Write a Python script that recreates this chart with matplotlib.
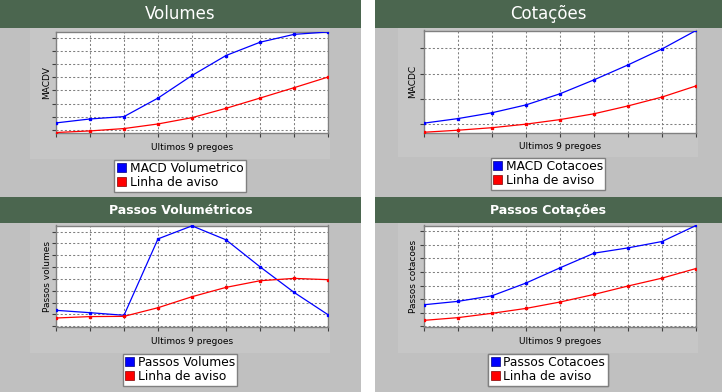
import matplotlib
matplotlib.use("Agg")
import matplotlib.pyplot as plt
from matplotlib.patches import Rectangle, Patch

W, H = 722, 392

# data (arbitrary units)
pregoes = list(range(9))

macd_vol = [0.53, 0.83, 1.01, 2.42, 4.14, 5.66, 6.67, 7.27, 7.45]
aviso_vol = [-0.2, -0.08, 0.1, 0.45, 0.93, 1.64, 2.42, 3.21, 4.02]

macd_cot = [0.04, 0.22, 0.45, 0.76, 1.20, 1.75, 2.34, 2.97, 3.70]
aviso_cot = [-0.32, -0.24, -0.14, 0.0, 0.18, 0.41, 0.72, 1.07, 1.51]

passos_vol = [1.35, 1.15, 0.93, 7.39, 8.49, 7.31, 5.03, 2.87, 0.98]
aviso_pvol = [0.70, 0.82, 0.84, 1.57, 2.50, 3.29, 3.85, 4.05, 3.94]

passos_cot = [1.59, 1.84, 2.25, 3.19, 4.31, 5.39, 5.78, 6.25, 7.43]
aviso_pcot = [0.44, 0.64, 0.96, 1.32, 1.79, 2.35, 2.97, 3.55, 4.26]

GRAY = "#c0c0c0"
BOX = "#c6c6c6"
GREEN = "#4b664f"

fig = plt.figure(figsize=(W / 100, H / 100), dpi=100)
fig.patch.set_facecolor("white")

bg = fig.add_axes([0, 0, 1, 1], zorder=-1)
bg.set_xlim(0, W)
bg.set_ylim(H, 0)
bg.axis("off")


def px_axes(x0, y0, x1, y1):
    return fig.add_axes([x0 / W, 1 - y1 / H, (x1 - x0) / W, (y1 - y0) / H])


# panel backgrounds and title bars
for x0, x1 in [(0, 361), (375, 722)]:
    bg.add_patch(Rectangle((x0, 0), x1 - x0, H, color=GRAY, lw=0))
    bg.add_patch(Rectangle((x0, 0), x1 - x0, 28, color=GREEN, lw=0))
    bg.add_patch(Rectangle((x0, 197), x1 - x0, 26, color=GREEN, lw=0))

bg.text(180.5, 14, "Volumes", color="white", fontsize=12, ha="center", va="center")
bg.text(548.5, 14, "Cotações", color="white", fontsize=12, ha="center", va="center")
bg.text(180.5, 210, "Passos Volumétricos", color="white", fontsize=9, fontweight="bold",
        ha="center", va="center")
bg.text(548.5, 210, "Passos Cotações", color="white", fontsize=9, fontweight="bold",
        ha="center", va="center")

charts = [
    # inner box, plot rect, ylabel, label x, series, names, ylim, xlabel y
    ((30, 28, 330, 159), (56, 32, 328, 132.5), "MACDV", 47,
     macd_vol, aviso_vol, "MACD Volumetrico", (-0.2, 7.45), 147),
    ((398, 28, 698, 157), (424, 30.5, 696, 132.5), "MACDC", 413,
     macd_cot, aviso_cot, "MACD Cotacoes", (-0.33, 3.70), 146),
    ((30, 223, 330, 353), (56, 225.5, 328, 327), "Passos volumes", 47,
     passos_vol, aviso_pvol, "Passos Volumes", (-0.06, 8.52), 341),
    ((398, 223, 698, 353), (424, 225.5, 696, 327), "Passos cotacoes", 413,
     passos_cot, aviso_pcot, "Passos Cotacoes", (-0.05, 7.43), 341),
]

for box, rect, ylab, ylab_x, blue, red, name, ylim, xlab_y in charts:
    bx0, by0, bx1, by1 = box
    bg.add_patch(Rectangle((bx0, by0), bx1 - bx0, by1 - by0, color=BOX, lw=0))

    ax = px_axes(*rect)
    ax.set_facecolor("white")
    ax.plot(pregoes, blue, color="#0000ff", lw=0.9, marker="s", ms=1.6, zorder=3)
    ax.plot(pregoes, red, color="#ff0000", lw=0.9, marker="s", ms=1.6, zorder=3)
    ax.set_xlim(0, 8)
    ax.set_ylim(*ylim)
    ax.set_xticks(pregoes)
    ax.set_yticks(range(0, int(ylim[1]) + 1))
    ax.set_xticklabels([])
    ax.set_yticklabels([])
    ax.grid(True, color="#808080", ls=(0, (2, 2)), lw=0.75)
    ax.tick_params(axis="both", length=3, width=0.8, color="#404040", direction="out")
    for s in ax.spines.values():
        s.set_color("#808080")
        s.set_linewidth(1)

    cx = (rect[0] + rect[2]) / 2
    bg.text(cx, xlab_y, "Ultimos 9 pregoes", fontsize=6.5, ha="center", va="center")
    bg.text(ylab_x, (rect[1] + rect[3]) / 2, ylab, fontsize=6.5, rotation=90,
            ha="center", va="center")

    handles = [Patch(facecolor="#0000ff", edgecolor="#000080", lw=0.5),
               Patch(facecolor="#ff0000", edgecolor="#800000", lw=0.5)]
    leg = bg.legend(handles, [name, "Linha de aviso"], loc="upper center",
                    bbox_to_anchor=((bx0 + bx1) / 2, by1 + 0.5),
                    bbox_transform=bg.transData, fontsize=8.8, frameon=True,
                    fancybox=False, edgecolor="#808080", framealpha=1,
                    handlelength=0.75, handleheight=0.75, handletextpad=0.3,
                    borderpad=0.2, labelspacing=0.1, borderaxespad=0)
    leg.get_frame().set_linewidth(1)
    bg.add_artist(leg)

fig.savefig("out.png", dpi=100)
